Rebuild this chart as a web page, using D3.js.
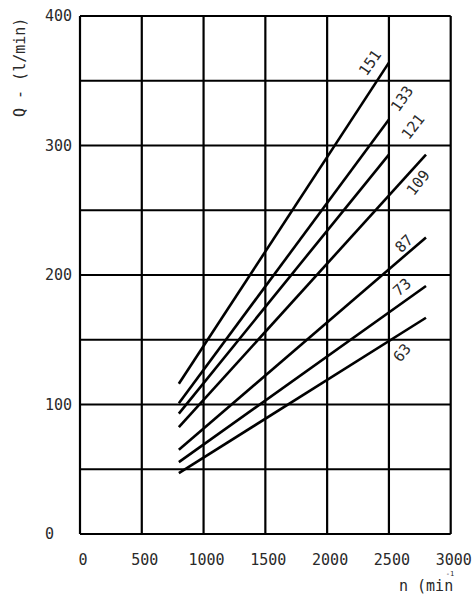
<!DOCTYPE html>
<html>
<head>
<meta charset="utf-8">
<script src="https://cdn.jsdelivr.net/npm/d3@7"></script>
<style>
  body { margin: 0; background: #fff; }
  svg text { font-family: "DejaVu Sans Mono", monospace; fill: #2a2a2a; }
</style>
</head>
<body>
<svg id="chart"></svg>
<script>
// pump sizes (cm3) and read-off flow lines
const sizes = ["151", "133", "121", "109", "87", "73", "63"];
const nStart = [800, 800, 800, 800, 800, 800, 800];
const nEnd = [2500, 2500, 2500, 2800, 2800, 2800, 2800];
const qStart = [116, 101, 93, 82.5, 65, 55.5, 47];
const qEnd = [364, 320, 293, 293, 229, 191.5, 167];

const xTicks = [0, 500, 1000, 1500, 2000, 2500, 3000];
const yTicks = [0, 100, 200, 300, 400];
const yGrid = [50, 100, 150, 200, 250, 300, 350, 400];

const svgWidth = 472, svgHeight = 600;
const margin = {top: 16, right: 21.3, bottom: 66, left: 80},
    width = svgWidth - margin.left - margin.right,
    height = svgHeight - margin.top - margin.bottom;

const chart = d3.select('#chart')
    .attr("width", svgWidth)
    .attr("height", svgHeight);

const g = chart.append("g")
    .attr("transform", `translate(${margin.left},${margin.top})`);

var xScale = d3.scaleLinear().domain([0, 3000]).range([0, width]);
var yScale = d3.scaleLinear().domain([0, 400]).range([height, 0]);

// grid
g.selectAll(".vgrid").data(xTicks).enter().append("line")
    .attr("x1", d => xScale(d)).attr("x2", d => xScale(d))
    .attr("y1", 0).attr("y2", height)
    .attr("stroke", "#000").attr("stroke-width", 2.2);

g.selectAll(".hgrid").data([0].concat(yGrid)).enter().append("line")
    .attr("x1", 0).attr("x2", width)
    .attr("y1", d => yScale(d)).attr("y2", d => yScale(d))
    .attr("stroke", "#000").attr("stroke-width", 2.2);

// y labels (left aligned)
g.selectAll(".ylab").data(yTicks).enter().append("text")
    .attr("x", -35)
    .attr("y", d => yScale(d))
    .attr("dy", "0.35em")
    .style("font-size", "15px")
    .text(d => d);

// x labels
g.selectAll(".xlab").data(xTicks).enter().append("text")
    .attr("x", d => xScale(d) + 3)
    .attr("y", height + 26)
    .attr("dy", "0.35em")
    .style("font-size", "15px")
    .style("text-anchor", "middle")
    .text(d => d);

// axis titles
chart.append("text")
    .attr("transform", "translate(25,117) rotate(-90)")
    .style("font-size", "15px")
    .text("Q - (l/min)");

chart.append("text")
    .attr("x", 399).attr("y", 591)
    .style("font-size", "15px")
    .text("n (min");

chart.append("text")
    .attr("x", 450).attr("y", 576)
    .style("font-size", "7px")
    .style("text-anchor", "middle")
    .text("-1");

// flow lines
const lines = sizes.map((s, i) => ({
    size: s,
    pts: [[nStart[i], qStart[i]], [nEnd[i], qEnd[i]]]
}));

var valueline = d3.line()
    .x(d => xScale(d[0]))
    .y(d => yScale(d[1]));

g.selectAll(".flow").data(lines).enter().append("path")
    .attr("d", d => valueline(d.pts))
    .attr("fill", "none")
    .attr("stroke", "#000")
    .attr("stroke-width", 2.6);

// label placement relative to line end (px offset, angle)
const labelOff = [[-19, 0, -55], [13, -21, -55], [24, -28, -52], [-8, 28, -52],
                  [-22, 6, -45], [-24, 1, -42], [-24, 35, -50]];

g.selectAll(".flowlab").data(lines).enter().append("text")
    .attr("transform", (d, i) => {
        const x = xScale(d.pts[1][0]) + labelOff[i][0];
        const y = yScale(d.pts[1][1]) + labelOff[i][1];
        return `translate(${x},${y}) rotate(${labelOff[i][2]})`;
    })
    .attr("dy", "0.35em")
    .style("font-size", "15px")
    .style("text-anchor", "middle")
    .text(d => d.size);
</script>
</body>
</html>
